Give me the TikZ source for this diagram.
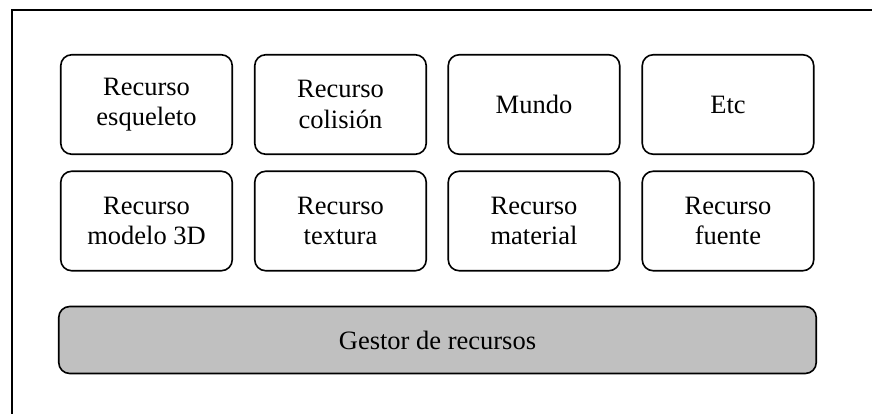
\documentclass[tikz,border=0pt]{standalone}
\usepackage{fontspec}
\setmainfont{Liberation Serif}
\begin{document}
\begin{tikzpicture}[x=1pt,y=-1pt,
  res/.style={draw=black, line width=1.6pt, rounded corners=11pt, minimum width=171.5pt, minimum height=99.5pt, inner sep=0pt, outer sep=0pt, align=center, font=\fontsize{26.5}{30.5}\selectfont},
  gestor/.style={res, fill={rgb,255:red,192;green,192;blue,192}, minimum width=757.5pt, minimum height=67pt}]
\useasboundingbox (0,0) rectangle (872,413);
\draw[line width=2pt] (12,420) -- (12,10) -- (880,10);
\node[res] (esq) at (146.5,104.5) {Recurso\\esqueleto};
\node[res] (col) at (340.5,104.5) {Recurso\\colisión};
\node[res] (mun) at (534,104.5) {Mundo};
\node[res] (etc) at (728,104.5) {Etc};
\node[res] (mod) at (146.5,221) {Recurso\\modelo 3D};
\node[res] (tex) at (340.5,221) {Recurso\\textura};
\node[res] (mat) at (534,221) {Recurso\\material};
\node[res] (fue) at (728,221) {Recurso\\fuente};
\node[gestor] (ges) at (437.5,340) {Gestor de recursos};
\end{tikzpicture}
\end{document}
